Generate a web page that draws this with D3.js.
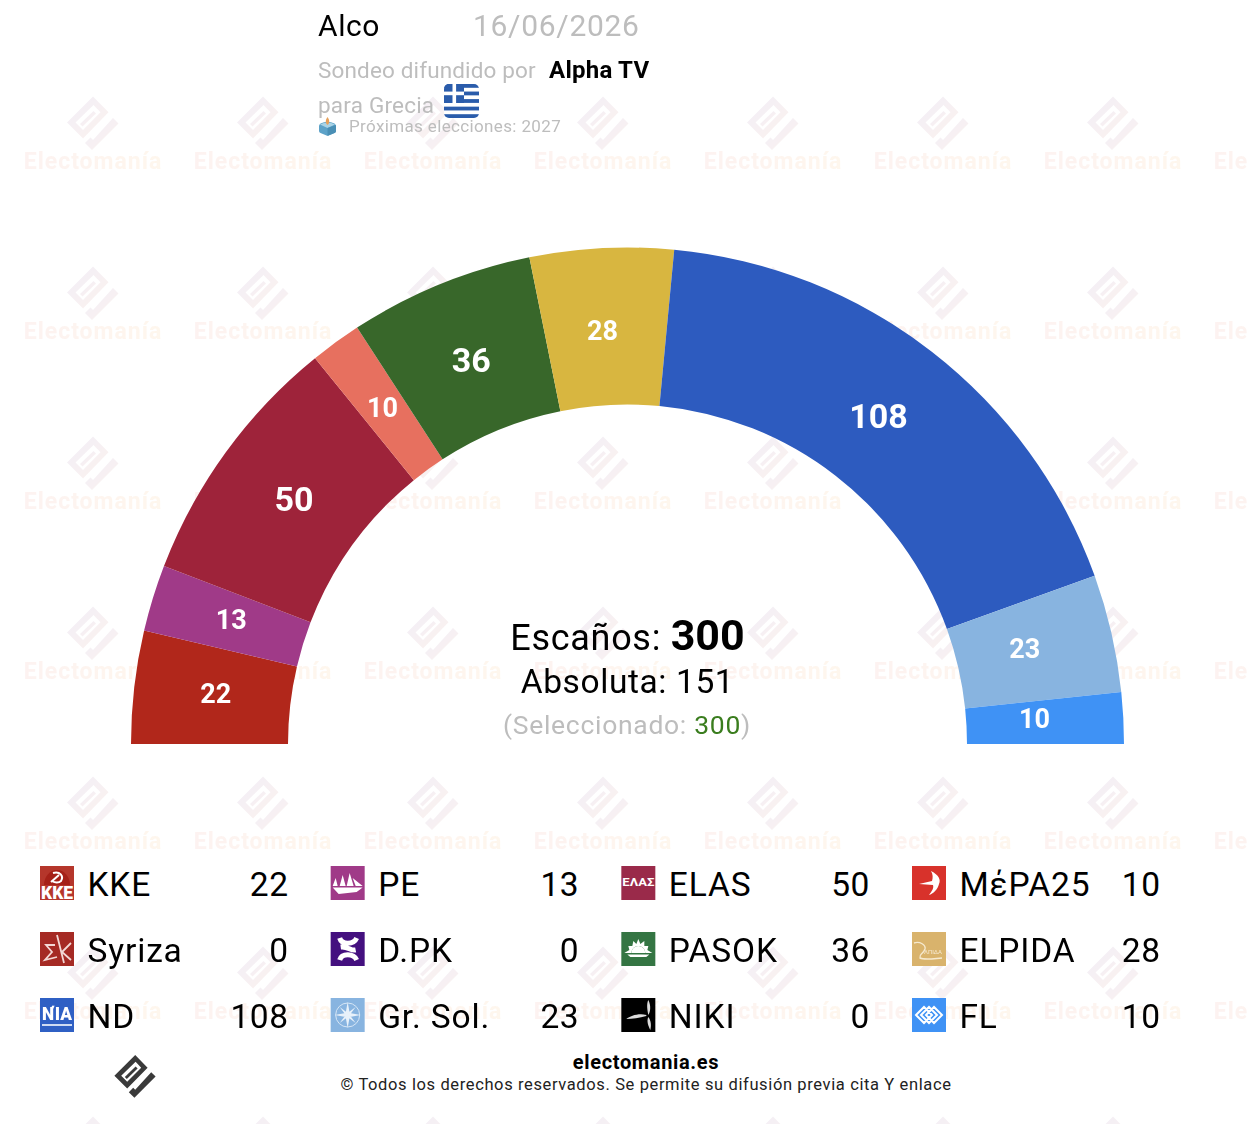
<!DOCTYPE html>
<html>
<head>
<meta charset="utf-8">
<style>
html, body { margin: 0; padding: 0; background: #fff; }
svg { display: block; font-family: Roboto, sans-serif; }
</style>
<script src="https://cdn.jsdelivr.net/npm/d3@7"></script>
</head>
<body>
<div id="chart"></div>
<script>
// datos del sondeo
const parties = ["KKE", "PE", "ELAS", "MέPA25", "Syriza", "D.PK", "PASOK", "ELPIDA", "ND", "Gr. Sol.", "NIKI", "FL"];
const seats = [22, 13, 50, 10, 0, 0, 36, 28, 108, 23, 0, 10];
const arcColors = ["#b1271b", "#a03a88", "#9e233a", "#e7705f", "#a52a24", "#44107f", "#38672a", "#d8b640", "#2d5bbf", "#88b4e0", "#000000", "#3f92f5"];
const iconColors = ["#b5362b", "#a03a88", "#9a2a4a", "#d8322b", "#a52a24", "#44107f", "#347543", "#d9b36c", "#2f60c4", "#88b4e0", "#000000", "#3f92f5"];
const totalSeats = 300;
const majority = 151;
const selected = 300;

const width = 1252, height = 1124;
const cx = 627.5, cy = 744;
const outerR = 496.5, innerR = 339.5;
const labelR = 411;

const svg = d3.select("#chart").append("svg")
    .attr("width", width)
    .attr("height", height);

const defs = svg.append("defs");
const markGrad = defs.append("linearGradient").attr("id", "markGrad")
    .attr("x1", "0%").attr("y1", "0%").attr("x2", "100%").attr("y2", "100%");
markGrad.append("stop").attr("offset", "0%").attr("stop-color", "#d8d0ec");
markGrad.append("stop").attr("offset", "100%").attr("stop-color", "#f8ddd0");
const wordGrad = defs.append("linearGradient").attr("id", "wordGrad");
wordGrad.append("stop").attr("offset", "0%").attr("stop-color", "#f8dcd8");
wordGrad.append("stop").attr("offset", "100%").attr("stop-color", "#fde8cf");
defs.append("clipPath").attr("id", "markClip").append("rect")
    .attr("width", 1247).attr("height", height);

// logo Electomanía (centrado en 0,0)
const logoRing = "M0,-25.5L15.5,-9.7L-10,16.5L-26,0.5ZM0.5,-17L-17.5,0.5L-10,8L7.5,-9.7Z";
const logoSlot = "M3,-8.5L-10.5,4.5L-13,2L0.5,-11Z";
const logoCheck = "M20,-4L25.5,1.5L-1,28L-8,21L-2.5,15.5L0,18Z";

function drawLogo(g, fill) {
    g.append("path").attr("d", logoRing).attr("fill", fill).attr("fill-rule", "evenodd");
    g.append("path").attr("d", logoSlot).attr("fill", fill);
    g.append("path").attr("d", logoCheck).attr("fill", fill);
}

// marca de agua
const markX = d3.range(93, width + 60, 170);
const markY = d3.range(122, height + 60, 170);
const watermark = svg.append("g").attr("opacity", 0.37).attr("clip-path", "url(#markClip)");
markY.forEach(y => markX.forEach(x => {
    const t = watermark.append("g").attr("transform", `translate(${x},${y})`);
    drawLogo(t, "url(#markGrad)");
    t.append("text")
        .attr("y", 47)
        .attr("text-anchor", "middle")
        .attr("font-size", 23)
        .attr("font-weight", 700)
        .attr("letter-spacing", 1)
        .attr("fill", "url(#wordGrad)")
        .text("Electomanía");
}));

// hemiciclo
const pie = d3.pie()
    .sort(null)
    .value(d => d.seats)
    .startAngle(-Math.PI / 2)
    .endAngle(Math.PI / 2);
const arc = d3.arc().innerRadius(innerR).outerRadius(outerR);
const labelArc = d3.arc().innerRadius(labelR).outerRadius(labelR);
const rows = parties.map((name, i) => ({ name, seats: seats[i], color: arcColors[i], icon: iconColors[i], i }));

const arcs = svg.append("g").attr("transform", `translate(${cx},${cy})`);
const slices = pie(rows).filter(d => d.value > 0);
arcs.selectAll("path").data(slices).join("path")
    .attr("d", arc)
    .attr("fill", d => d.data.color);
arcs.selectAll("text").data(slices).join("text")
    .attr("transform", d => {
        const [x, y] = labelArc.centroid(d);
        return `translate(${x - (d.value >= 36 ? 1 : 3.5)},${y - 3})`;
    })
    .attr("text-anchor", "middle")
    .attr("dominant-baseline", "central")
    .attr("fill", "#fff")
    .attr("font-weight", 700)
    .attr("font-size", d => d.value >= 36 ? 34 : 27)
    .text(d => d.value);

// cabecera
function label(x, y, size, fill, txt, weight, spacing) {
    return svg.append("text")
        .attr("x", x).attr("y", y)
        .attr("font-size", size)
        .attr("font-weight", weight || 400)
        .attr("letter-spacing", spacing || 0)
        .attr("fill", fill)
        .text(txt);
}
label(318, 36, 30, "#000", "Alco", 400, 0.6);
label(473, 36, 30, "#bdbdbd", "16/06/2026", 400, 0.7);
label(318, 77.5, 22.5, "#bdbdbd", "Sondeo difundido por", 400, 0.15);
label(549, 78, 24, "#000", "Alpha TV", 700, 0.25);
label(318, 112.5, 22.5, "#bdbdbd", "para Grecia", 400, 0.2);
label(349, 132, 17, "#bdbdbd", "Próximas elecciones: 2027", 400, 0.36);

// bandera
const flag = svg.append("g").attr("transform", "translate(444,84)");
flag.append("clipPath").attr("id", "flagClip").append("rect")
    .attr("width", 35).attr("height", 34).attr("rx", 5);
const flagBody = flag.append("g").attr("clip-path", "url(#flagClip)");
flagBody.append("rect").attr("width", 35).attr("height", 34).attr("fill", "#fff");
d3.range(5).forEach(k => flagBody.append("rect")
    .attr("y", k * 7.55).attr("width", 35).attr("height", 3.8).attr("fill", "#2a5cab"));
flagBody.append("rect").attr("width", 20).attr("height", 19).attr("fill", "#2a5cab");
flagBody.append("rect").attr("x", 8.5).attr("width", 3.6).attr("height", 19).attr("fill", "#fff");
flagBody.append("rect").attr("y", 7.6).attr("width", 20).attr("height", 3.6).attr("fill", "#fff");

// urna
const urn = svg.append("g").attr("transform", "translate(319,117)");
urn.append("path").attr("d", "M1.5,6.5Q8.5,3 15.5,6.5Q17,7.5 17,9V14Q17,15.5 15.5,16L9.5,18.5Q8.5,19 7.5,18.5L1.5,16Q0,15.5 0,14V9Q0,7.5 1.5,6.5Z").attr("fill", "#5da2c8");
urn.append("path").attr("d", "M1,7.5Q8.5,3.5 16,7.5L8.5,11Z").attr("fill", "#a9d3e6");
urn.append("path").attr("d", "M8.5,11L17,8V14Q17,15.5 15.5,16L9.5,18.5L8.5,18.7Z").attr("fill", "#4a8fb5");
urn.append("path").attr("d", "M8.5,0C10.8,3 10.8,6.5 8.5,8C6.2,6.5 6.2,3 8.5,0Z").attr("fill", "#e6a15c");

// texto central
const centre = svg.append("g").attr("text-anchor", "middle");
const seatsLine = centre.append("text").attr("x", 627.5).attr("y", 650).attr("font-size", 36).attr("fill", "#000");
seatsLine.append("tspan").attr("letter-spacing", 0.7).text("Escaños: ");
seatsLine.append("tspan").attr("font-weight", 700).attr("font-size", 43).text(totalSeats);
centre.append("text").attr("x", 627.5).attr("y", 693).attr("font-size", 33.5).attr("letter-spacing", 0.6).attr("fill", "#000")
    .text(`Absoluta: ${majority}`);
const selLine = centre.append("text").attr("x", 627).attr("y", 734).attr("font-size", 26.5).attr("letter-spacing", 0.7).attr("fill", "#bdbdbd");
selLine.append("tspan").text("(Seleccionado: ");
selLine.append("tspan").attr("fill", "#3a7d1e").text(selected);
selLine.append("tspan").text(")");

// dibujos de los iconos, en una caja de 34x34
const iconDraw = {
    KKE(g) {
        g.append("path").attr("d", "M4,19A13,15 0 0 1 30,19Z").attr("fill", "#a52118");
        g.append("path").attr("d", "M13,7C20,5 24,10 21,15C19,17 15,17 12,15M11,16L19,9").attr("fill", "none").attr("stroke", "#fff").attr("stroke-width", 2);
        g.append("text").attr("x", 17).attr("y", 33).attr("text-anchor", "middle").attr("font-size", 18).attr("font-weight", 900)
            .attr("textLength", 32).attr("lengthAdjust", "spacingAndGlyphs").attr("fill", "#fff").text("KKE");
    },
    PE(g) {
        g.append("path").attr("d", "M2,20L5,12L7,20ZM9,20L12,9L15,20ZM16,20L19,7L23,20ZM22,12L32,20L25,20ZM2,21.5H32L26,26L8,28Z").attr("fill", "#fff");
    },
    ELAS(g) {
        g.append("text").attr("x", 17).attr("y", 20).attr("text-anchor", "middle").attr("font-size", 10.5).attr("font-weight", 700)
            .attr("textLength", 32).attr("lengthAdjust", "spacingAndGlyphs").attr("fill", "#fff").text("ΕΛΑΣ");
    },
    "MέPA25"(g) {
        g.append("path").attr("d", "M19,5C27,9 29,14 27,18C26,23 21,28 17,29C20,25 22,22 21,19L7,18L20,15C21,12 21,8 19,5Z").attr("fill", "#fff");
    },
    Syriza(g) {
        g.append("path").attr("d", "M17,3L24,31M15,13H6L12,20L5,28L17,25M31,11L22,20L31,28").attr("fill", "none").attr("stroke", "#f3d8d5").attr("stroke-width", 1.8);
    },
    "D.PK"(g) {
        g.append("path").attr("d", "M9,6C11,13 23,13 26,6M9,28C11,21 23,21 26,28M10,15C17,14 20,19 25,18").attr("fill", "none").attr("stroke", "#fff").attr("stroke-width", 5);
    },
    PASOK(g) {
        g.append("path").attr("d", "M3,21L8,18L7,14L11,14L12,9L15,12L17,7L19,12L23,9L23,14L27,14L26,18L31,21L24,21A7,7 0 0 0 10,21Z").attr("fill", "#fff");
        g.append("path").attr("d", "M10,21A7,7 0 0 1 24,21Z").attr("fill", "#fff");
        g.append("path").attr("d", "M6,22.5H28L25,25H9Z").attr("fill", "#fff");
    },
    ELPIDA(g) {
        g.append("path").attr("d", "M2,11C8,9 14,13 13,17C11,23 7,21 8,26C12,28 18,27 30,26").attr("fill", "none").attr("stroke", "#f6ead0").attr("stroke-width", 1.4);
        g.append("text").attr("x", 21).attr("y", 22).attr("text-anchor", "middle").attr("font-size", 6).attr("fill", "#f6ead0").text("ΛΠΙΔΑ");
    },
    ND(g) {
        g.append("text").attr("x", 17).attr("y", 22).attr("text-anchor", "middle").attr("font-size", 18).attr("font-weight", 900)
            .attr("textLength", 30).attr("lengthAdjust", "spacingAndGlyphs").attr("fill", "#fff").text("ΝΊΑ");
        g.append("rect").attr("x", 2).attr("y", 26).attr("width", 30).attr("height", 2).attr("fill", "#cfdcf3");
    },
    "Gr. Sol."(g) {
        g.append("circle").attr("cx", 17).attr("cy", 17).attr("r", 12).attr("fill", "none").attr("stroke", "#d6e6f6").attr("stroke-width", 1);
        g.append("path").attr("d", "M17,4L19,15L30,17L19,19L17,30L15,19L4,17L15,15ZM9,9L17,15L25,9L19,17L25,25L17,19L9,25L15,17Z").attr("fill", "#e8f1fa");
    },
    NIKI(g) {
        g.append("path").attr("d", "M27,2C30,8 29,14 27,17C26,12 25,6 27,2ZM27,19C30,23 30,28 29,32C27,28 25,23 27,19ZM25,17C17,15 9,18 5,21C11,21 18,20 25,18Z").attr("fill", "#dcdcdc");
    },
    FL(g) {
        g.append("path").attr("d", "M4,17L12,9L20,17L12,25ZM14,17L22,9L30,17L22,25ZM9,17L17,9L25,17L17,25Z").attr("fill", "none").attr("stroke", "#fff").attr("stroke-width", 2);
    }
};

// leyenda
const xLegend = d3.scalePoint().domain([0, 1, 2, 3]).range([40, 912]);
const yLegend = d3.scalePoint().domain([0, 1, 2]).range([866, 998]);
const legend = svg.selectAll("g.legend").data(rows).join("g")
    .attr("class", "legend")
    .attr("transform", d => `translate(${xLegend(d.i % 4)},${yLegend(Math.floor(d.i / 4))})`);
legend.append("rect")
    .attr("width", 34).attr("height", 34)
    .attr("fill", d => d.icon);
legend.each(function (d) { iconDraw[d.name](d3.select(this).append("g")); });
legend.append("text")
    .attr("x", 47.5).attr("y", 30)
    .attr("font-size", 33.5)
    .attr("letter-spacing", 0.85)
    .attr("fill", "#000")
    .text(d => d.name);
legend.append("text")
    .attr("x", 248.5).attr("y", 30)
    .attr("text-anchor", "end")
    .attr("font-size", 33.5)
    .attr("letter-spacing", 0.5)
    .attr("fill", "#000")
    .text(d => d.seats);

// pie de página
drawLogo(svg.append("g").attr("transform", "translate(135.2,1075.4) scale(0.8)"), "#3a3a3a");
svg.append("text").attr("x", 646).attr("y", 1069).attr("text-anchor", "middle")
    .attr("font-size", 20).attr("font-weight", 700).attr("letter-spacing", 0.65).attr("fill", "#000").text("electomania.es");
svg.append("text").attr("x", 646).attr("y", 1090).attr("text-anchor", "middle")
    .attr("font-size", 16.5).attr("letter-spacing", 0.62).attr("fill", "#222").text("© Todos los derechos reservados. Se permite su difusión previa cita Y enlace");
</script>
</body>
</html>
